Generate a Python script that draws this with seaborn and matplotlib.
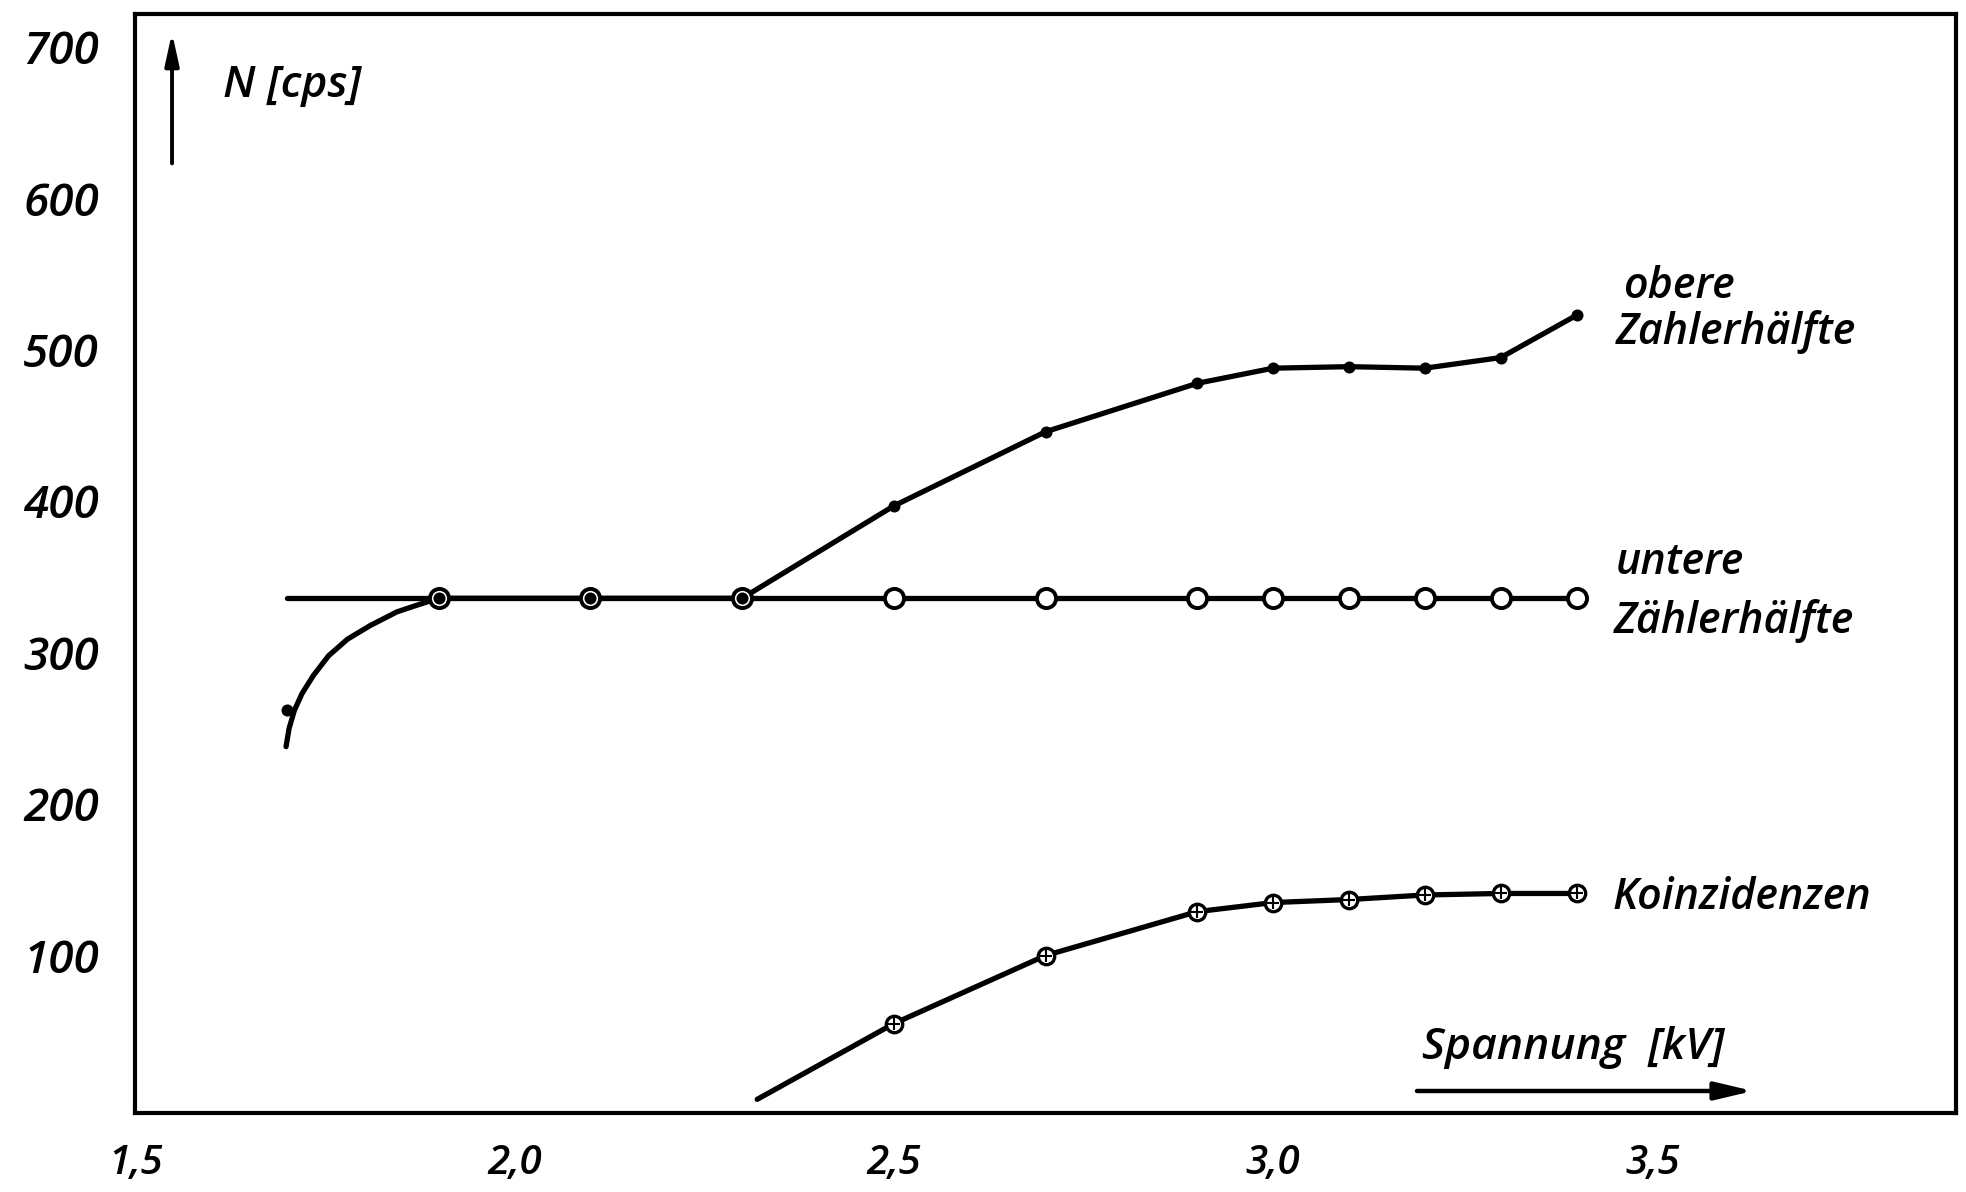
import numpy as np
import matplotlib
matplotlib.use("Agg")
import matplotlib.pyplot as plt
import seaborn as sns

# ── data ──────────────────────────────────────────────────────────────────────
VOLT   = [1.7, 1.9, 2.1, 2.3, 2.5, 2.7, 2.9, 3.0, 3.1, 3.2, 3.3, 3.4]   # kV
OBERE  = [262, 336, 336, 336, 397, 446, 478, 488, 489, 488, 495, 523]  # cps
UNTERE = [np.nan, 336, 336, 336, 336, 336, 336, 336, 336, 336, 336, 336]
KOINZ  = [np.nan, np.nan, np.nan, np.nan, 55, 100, 129, 135, 137, 140, 141, 141]

OBERE_TAIL_X = [1.699, 1.703, 1.710, 1.720, 1.735, 1.755, 1.780, 1.810, 1.845, 1.875, 1.9]
OBERE_TAIL_Y = [238, 250, 262, 273, 285, 298, 309, 318, 327, 332, 336]
UNTERE_START = (1.70, 336)
KOINZ_START  = (2.32, 5)

XTICKS = [1.5, 2.0, 2.5, 3.0, 3.5]
XTICK_LABELS = ["1,5", "2,0", "2,5", "3,0", "3,5"]
YTICKS = [100, 200, 300, 400, 500, 600, 700]

sns.set_theme(style="white")
plt.rcParams["font.family"] = ["Open Sans", "DejaVu Sans"]
FONT = dict(fontstyle="italic", fontweight="semibold", color="black")

fig = plt.figure(figsize=(19.66, 11.92), dpi=100)
ax = fig.add_axes([0.0687, 0.0663, 0.9262, 0.922])

LW = 3.8

# ── curves ───────────────────────────────────────────────────────────────────
ob_x = OBERE_TAIL_X + VOLT[2:]
ob_y = OBERE_TAIL_Y + OBERE[2:]
sns.lineplot(x=ob_x, y=ob_y, ax=ax, color="black", lw=LW,
             estimator=None, sort=False)

un_x = [UNTERE_START[0]] + [v for v, u in zip(VOLT, UNTERE) if not np.isnan(u)]
un_y = [UNTERE_START[1]] + [u for u in UNTERE if not np.isnan(u)]
sns.lineplot(x=un_x, y=un_y, ax=ax, color="black", lw=LW,
             estimator=None, sort=False)

ko_x = [KOINZ_START[0]] + [v for v, k in zip(VOLT, KOINZ) if not np.isnan(k)]
ko_y = [KOINZ_START[1]] + [k for k in KOINZ if not np.isnan(k)]
sns.lineplot(x=ko_x, y=ko_y, ax=ax, color="black", lw=LW,
             estimator=None, sort=False)

# ── markers ──────────────────────────────────────────────────────────────────
sns.scatterplot(x=VOLT, y=UNTERE, ax=ax, marker="o", s=190,
                facecolor="white", edgecolor="black", linewidth=2.8, zorder=4)
sns.scatterplot(x=VOLT, y=KOINZ, ax=ax, marker="o", s=140,
                facecolor="white", edgecolor="black", linewidth=2.4, zorder=4)
sns.scatterplot(x=VOLT, y=KOINZ, ax=ax, marker="+", s=85,
                color="black", linewidth=1.5, zorder=5)
sns.scatterplot(x=VOLT, y=OBERE, ax=ax, marker="o", s=75,
                color="black", edgecolor="black", linewidth=0, zorder=5)

# ── frame and ticks ──────────────────────────────────────────────────────────
ax.set_xlim(1.5, 3.9)
ax.set_ylim(-4, 722)
for sp in ax.spines.values():
    sp.set_visible(True)
    sp.set_color("black")
    sp.set_linewidth(3)
ax.set_xticks(XTICKS)
ax.set_xticklabels(XTICK_LABELS, fontsize=29, **FONT)
ax.set_yticks(YTICKS)
ax.set_yticklabels([str(v) for v in YTICKS], fontsize=33, **FONT)
ax.tick_params(axis="x", length=0, pad=22)
ax.tick_params(axis="y", length=0, pad=26)
ax.set_xlabel("")
ax.set_ylabel("")
ax.grid(False)

# ── axis captions with arrows ────────────────────────────────────────────────
ax.annotate("", xy=(0.0203, 0.983), xytext=(0.0203, 0.864),
            xycoords="axes fraction",
            arrowprops=dict(arrowstyle="-|>,head_length=1.6,head_width=0.35",
                            color="black", lw=2.8, shrinkA=0, shrinkB=0))
ax.text(0.0483, 0.935, "N [cps]", transform=ax.transAxes, fontsize=32,
        va="center", ha="left", **FONT)

ax.annotate("", xy=(0.8885, 0.020), xytext=(0.704, 0.020),
            xycoords="axes fraction",
            arrowprops=dict(arrowstyle="-|>,head_length=1.9,head_width=0.45",
                            color="black", lw=3.2, shrinkA=0, shrinkB=0))
ax.text(0.7067, 0.060, "Spannung  [kV]", transform=ax.transAxes, fontsize=32,
        va="center", ha="left", **FONT)

# ── curve labels ─────────────────────────────────────────────────────────────
labels = [
    (0.817, 0.752, "obere"),
    (0.813, 0.711, "Zahlerhälfte"),
    (0.813, 0.5005, "untere"),
    (0.812, 0.448, "Zählerhälfte"),
    (0.8116, 0.1965, "Koinzidenzen"),
]
for x, y, s in labels:
    ax.text(x, y, s, transform=ax.transAxes, fontsize=31,
            va="center", ha="left", **FONT)

fig.savefig("out.png", dpi=100)
plt.close(fig)
